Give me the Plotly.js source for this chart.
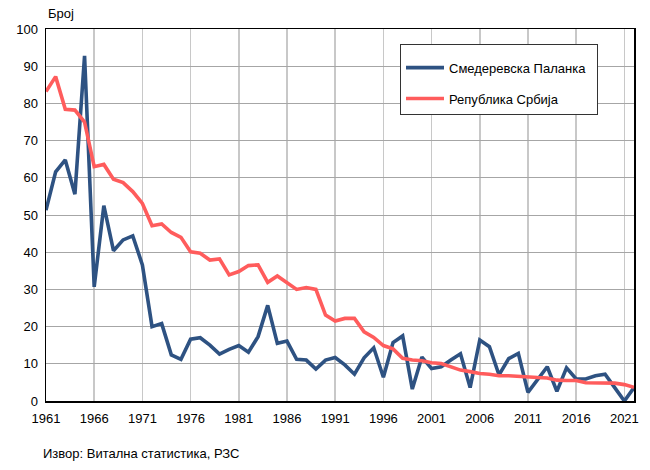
<!DOCTYPE html>
<html>
<head>
<meta charset="utf-8">
<script src="https://cdn.plot.ly/plotly-3.0.1.min.js"></script>
<style>html,body{margin:0;padding:0;background:#fff;}#chart{width:650px;height:470px;}</style>
</head>
<body>
<div id="chart"></div>
<script>
const years = [];
for (let y = 1961; y <= 2022; y++) years.push(y);

const palankaName = "Смедеревска Паланка";
const srbijaName = "Република Србија";

const palanka = [
  51.3, 61.6, 64.8, 55.6, 92.8, 30.7, 52.5, 40.4, 43.3, 44.4,
  36.6, 20.0, 20.8, 12.4, 11.2, 16.6, 17.0, 15.0, 12.6, 13.9,
  14.9, 13.1, 17.3, 25.7, 15.5, 16.1, 11.2, 11.0, 8.6, 11.0,
  11.7, 9.7, 7.2, 11.6, 14.3, 6.4, 15.7, 17.5, 3.2, 11.8,
  8.7, 9.2, 11.0, 12.7, 3.6, 16.4, 14.6, 7.0, 11.4, 12.8,
  2.3, 5.6, 9.2, 2.6, 8.9, 5.9, 5.9, 6.8, 7.2, 3.6,
  0.0, 3.6
];

const srbija = [
  83.2, 87.2, 78.4, 78.2, 75.0, 63.0, 63.6, 59.6, 58.7, 56.3,
  53.1, 47.1, 47.6, 45.3, 44.0, 40.1, 39.7, 37.9, 38.2, 33.9,
  34.8, 36.4, 36.6, 31.9, 33.6, 31.8, 30.0, 30.5, 30.0, 23.1,
  21.5, 22.2, 22.2, 18.6, 17.1, 14.9, 14.0, 11.5, 11.0, 10.8,
  10.3, 10.1, 9.2, 8.3, 7.9, 7.4, 7.2, 6.8, 6.8, 6.6,
  6.3, 6.3, 6.2, 5.6, 5.5, 5.5, 4.9, 4.9, 4.9, 4.8,
  4.4, 3.7
];

const xTickVals = [1961, 1966, 1971, 1976, 1981, 1986, 1991, 1996, 2001, 2006, 2011, 2016, 2021];
const yAxisLabel = "Број";
const sourceText = "Извор: Витална статистика, РЗС";

const traces = [
  {x: years, y: palanka, type: 'scatter', mode: 'lines', name: palankaName,
   legendgroup: 'a', line: {color: '#2e5282', width: 3.6}},
  {x: years, y: srbija, type: 'scatter', mode: 'lines', name: srbijaName,
   legendgroup: 'b', line: {color: '#ff5c5c', width: 3.6}}
];

const font = {family: 'Liberation Sans, Arial, sans-serif', size: 13, color: '#000'};

// invisible spacer used as legend title to widen the legend box
const legendSpacer = '\u00a0'.repeat(115);

const layout = {
  width: 650, height: 470,
  margin: {l: 46, r: 16, t: 29, b: 69},
  paper_bgcolor: '#fff', plot_bgcolor: '#fff',
  font: font,
  showlegend: true,
  legend: {
    x: (400 - 46) / 588, y: 0.96, xanchor: 'left', yanchor: 'top',
    bgcolor: '#fff', bordercolor: '#333', borderwidth: 1,
    font: font, traceorder: 'grouped', tracegroupgap: 11,
    itemwidth: 38,
    title: {text: legendSpacer, font: {size: 6}}
  },
  xaxis: {
    range: [1961, 2022], tickvals: xTickVals, ticks: '',
    showgrid: true, gridcolor: '#c8c8c8', gridwidth: 1.5,
    showline: true, linecolor: '#000', linewidth: 1.5, mirror: true,
    zeroline: false, tickfont: font, ticklabelstandoff: 5
  },
  yaxis: {
    range: [0, 100], dtick: 10, tick0: 0, ticks: '',
    showgrid: true, gridcolor: '#a6a6a6', gridwidth: 1,
    showline: true, linecolor: '#000', linewidth: 1.5, mirror: true,
    zeroline: false, tickfont: font, ticklabelstandoff: 4
  },
  annotations: [
    {text: yAxisLabel, xref: 'paper', yref: 'paper', x: 0, y: 1.043,
     xanchor: 'left', yanchor: 'middle', showarrow: false, font: font},
    {text: sourceText, xref: 'paper', yref: 'paper', x: -0.009, y: -0.14,
     xanchor: 'left', yanchor: 'middle', showarrow: false, font: font}
  ]
};

Plotly.newPlot('chart', traces, layout, {displayModeBar: false, staticPlot: true});
</script>
</body>
</html>
